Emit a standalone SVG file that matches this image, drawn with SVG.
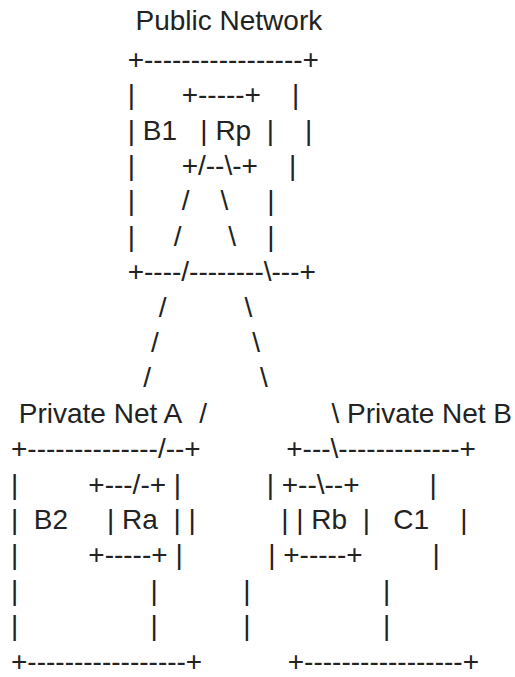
<svg xmlns="http://www.w3.org/2000/svg" width="515" height="677" viewBox="0 0 515 677" xml:space="preserve">
<style>
.t { font-family: "Liberation Sans", Arial, sans-serif; font-size: 28px; fill: #222222; white-space: pre; }
</style>
<rect x="0" y="0" width="515" height="677" fill="#ffffff"/>
<g id="public-network">
<text class="t" x="135.47" y="29.5">Public Network</text>
<text class="t" x="127.69" y="68.8">+-----------------+</text>
<text class="t" x="127.69" y="104.2">|      +-----+    |</text>
<text class="t" x="127.69" y="139.6">| B1   | Rp  |    |</text>
<text class="t" x="127.69" y="175.0">|      +/--\-+    |</text>
<text class="t" x="127.69" y="210.4">|      /    \     |</text>
<text class="t" x="127.69" y="245.8">|     /      \    |</text>
<text class="t" x="127.69" y="281.2">+----/--------\---+</text>
</g>
<g id="connectors">
<text class="t" x="158.80" y="316.6">/</text>
<text class="t" x="244.38" y="316.6">\</text>
<text class="t" x="151.02" y="352.0">/</text>
<text class="t" x="252.16" y="352.0">\</text>
<text class="t" x="143.24" y="387.4">/</text>
<text class="t" x="259.94" y="387.4">\</text>
<text class="t" x="199.29" y="422.8">/</text>
<text class="t" x="331.54" y="422.8">\</text>
</g>
<g id="private-net-a">
<text class="t" x="18.78" y="422.8">Private Net A</text>
<text class="t" x="11" y="458.2">+--------------/--+</text>
<text class="t" x="11" y="493.6">|         +---/-+ |</text>
<text class="t" x="11" y="529.0">|  B2     | Ra  | |</text>
<text class="t" x="11" y="564.4">|         +-----+ |</text>
<text class="t" x="11" y="599.8">|                 |</text>
<text class="t" x="11" y="635.2">|                 |</text>
<text class="t" x="11" y="670.6">+-----------------+</text>
</g>
<g id="private-net-b">
<text class="t" x="347.10" y="422.8">Private Net B</text>
<text class="t" x="286.24" y="458.2">+---\-------------+</text>
<text class="t" x="266.69" y="493.6">| +--\--+         |</text>
<text class="t" x="281.28" y="529.0">| | Rb  |   C1    |</text>
<text class="t" x="268.23" y="564.4">| +-----+         |</text>
<text class="t" x="243.37" y="599.8">|                 |</text>
<text class="t" x="243.37" y="635.2">|                 |</text>
<text class="t" x="287.78" y="670.6">+-----------------+</text>
</g>
</svg>
